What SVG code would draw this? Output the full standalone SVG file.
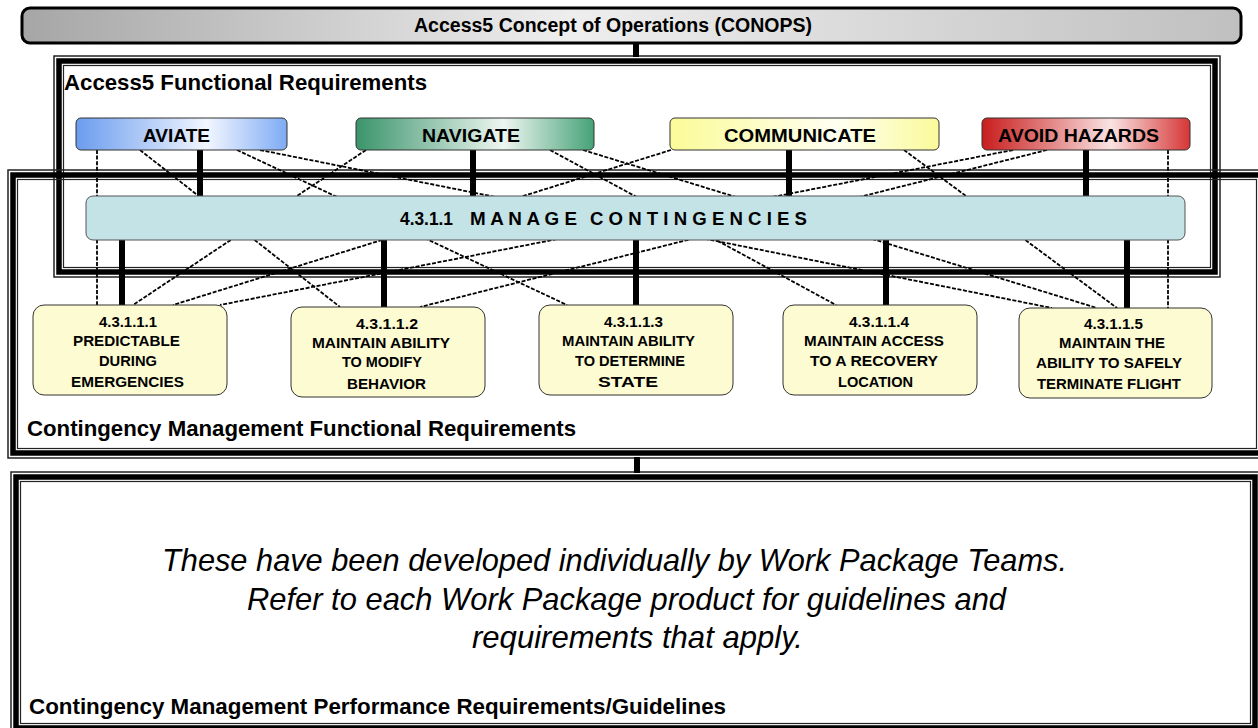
<svg xmlns="http://www.w3.org/2000/svg" width="1258" height="728" viewBox="0 0 1258 728">
<style>
text{font-family:'Liberation Sans',Arial,Helvetica,sans-serif;fill:#000}
.b{font-weight:bold}
.fo{fill:none;stroke:#222;stroke-width:1.5}
.ft{fill:none;stroke:#000;stroke-width:5.5}
.fi{fill:none;stroke:#222;stroke-width:1.2}
.thick{stroke:#000;stroke-width:6;fill:none}
.dash{stroke:#000;stroke-width:1.8;stroke-dasharray:4 1.6;fill:none}
.top{stroke:#333;stroke-width:1}
.sub{fill:#fdfbd1;stroke:#333;stroke-width:1}
.lbl{font-size:15px;font-weight:bold}
.hd{font-size:22px;font-weight:bold}
.it{font-size:30.5px;font-style:italic}
</style>
<defs>
<linearGradient id="gBar" x1="0" y1="0" x2="1" y2="0">
<stop offset="0" stop-color="#a6a6a6"/><stop offset="0.45" stop-color="#eeeeee"/><stop offset="1" stop-color="#c0c0c0"/>
</linearGradient>
<linearGradient id="gBlue" x1="0" y1="0" x2="1" y2="0">
<stop offset="0" stop-color="#6b9cee"/><stop offset="0.62" stop-color="#f2f6ff"/><stop offset="1" stop-color="#7eabf4"/>
</linearGradient>
<linearGradient id="gGreen" x1="0" y1="0" x2="1" y2="0">
<stop offset="0" stop-color="#3a946b"/><stop offset="0.62" stop-color="#eef6f1"/><stop offset="1" stop-color="#46a277"/>
</linearGradient>
<linearGradient id="gYellow" x1="0" y1="0" x2="1" y2="0">
<stop offset="0" stop-color="#fbfb98"/><stop offset="0.62" stop-color="#fffff2"/><stop offset="1" stop-color="#fafa9a"/>
</linearGradient>
<linearGradient id="gRed" x1="0" y1="0" x2="1" y2="0">
<stop offset="0" stop-color="#c91c1c"/><stop offset="0.62" stop-color="#fae3e3"/><stop offset="1" stop-color="#d63636"/>
</linearGradient>
</defs>
<rect width="1258" height="728" fill="#fff"/>

<!-- Frames -->
<g id="frame-access5">
<rect class="fo" x="54" y="56" width="1166" height="221"/>
<rect class="ft" x="59" y="61" width="1156" height="211"/>
<rect class="fi" x="63.5" y="65.5" width="1147" height="202"/>
<text class="hd" x="64" y="90" textLength="363" lengthAdjust="spacingAndGlyphs">Access5 Functional Requirements</text>
</g>
<g id="frame-cm-functional">
<rect class="fo" x="8" y="170" width="1258" height="288"/>
<rect class="ft" x="13" y="175" width="1248" height="278"/>
<rect class="fi" x="17.5" y="179.5" width="1239" height="269"/>
<text class="hd" x="27" y="436" textLength="549" lengthAdjust="spacingAndGlyphs">Contingency Management Functional Requirements</text>
</g>
<g id="frame-cm-performance">
<rect class="fo" x="11" y="472" width="1249" height="261"/>
<rect class="ft" x="16" y="477" width="1239" height="251"/>
<rect class="fi" x="20.5" y="481.5" width="1230" height="242"/>
<text class="it" x="162" y="571" textLength="905" lengthAdjust="spacingAndGlyphs">These have been developed individually by Work Package Teams.</text>
<text class="it" x="247" y="610" textLength="759" lengthAdjust="spacingAndGlyphs">Refer to each Work Package product for guidelines and</text>
<text class="it" x="472" y="648" textLength="331" lengthAdjust="spacingAndGlyphs">requirements that apply.</text>
<text class="hd" x="29" y="714" textLength="697" lengthAdjust="spacingAndGlyphs">Contingency Management Performance Requirements/Guidelines</text>
</g>

<!-- Connectors -->
<g id="connectors">
<line class="thick" x1="636" y1="43" x2="636" y2="57"/>
<line class="thick" x1="637" y1="457" x2="637" y2="473"/>
<line class="dash" x1="97" y1="150" x2="97" y2="305"/>
<line class="dash" x1="140" y1="150" x2="340" y2="307"/>
<line class="dash" x1="237" y1="150" x2="567" y2="305"/>
<line class="dash" x1="260" y1="150" x2="1052" y2="308"/>
<line class="dash" x1="366" y1="150" x2="133" y2="305"/>
<line class="dash" x1="550" y1="150" x2="836" y2="305"/>
<line class="dash" x1="583" y1="150" x2="1097" y2="308"/>
<line class="dash" x1="671" y1="150" x2="173" y2="305"/>
<line class="dash" x1="904" y1="150" x2="1117" y2="308"/>
<line class="dash" x1="1013" y1="150" x2="220" y2="305"/>
<line class="dash" x1="1047" y1="150" x2="420" y2="307"/>
<line class="dash" x1="1168" y1="150" x2="1168" y2="308"/>
<line class="thick" x1="200" y1="150" x2="200" y2="197"/>
<line class="thick" x1="473" y1="150" x2="473" y2="197"/>
<line class="thick" x1="789" y1="150" x2="789" y2="197"/>
<line class="thick" x1="1086" y1="150" x2="1086" y2="197"/>
<line class="thick" x1="122" y1="240" x2="122" y2="306"/>
<line class="thick" x1="384" y1="240" x2="384" y2="308"/>
<line class="thick" x1="636" y1="240" x2="636" y2="306"/>
<line class="thick" x1="886" y1="240" x2="886" y2="306"/>
<line class="thick" x1="1127" y1="240" x2="1127" y2="308"/>
</g>

<!-- Top bar -->
<g id="conops">
<rect x="22" y="8" width="1219" height="35" rx="8" fill="url(#gBar)" stroke="#000" stroke-width="3"/>
<text class="b" x="414" y="32" font-size="19.5" textLength="398" lengthAdjust="spacingAndGlyphs">Access5 Concept of Operations (CONOPS)</text>
</g>

<!-- Top boxes -->
<g id="aviate">
<rect class="top" x="76" y="118" width="211" height="32" rx="5" fill="url(#gBlue)"/>
<text class="b" x="143" y="142" font-size="19" textLength="67" lengthAdjust="spacingAndGlyphs">AVIATE</text>
</g>
<g id="navigate">
<rect class="top" x="356" y="118" width="238" height="32" rx="5" fill="url(#gGreen)"/>
<text class="b" x="422" y="142" font-size="19" textLength="98" lengthAdjust="spacingAndGlyphs">NAVIGATE</text>
</g>
<g id="communicate">
<rect class="top" x="670" y="118" width="269" height="32" rx="5" fill="url(#gYellow)"/>
<text class="b" x="724" y="142" font-size="19" textLength="152" lengthAdjust="spacingAndGlyphs">COMMUNICATE</text>
</g>
<g id="avoid-hazards">
<rect class="top" x="982" y="118" width="208" height="32" rx="5" fill="url(#gRed)"/>
<text class="b" x="998" y="142" font-size="19" textLength="161" lengthAdjust="spacingAndGlyphs">AVOID HAZARDS</text>
</g>

<!-- Manage contingencies -->
<g id="manage-contingencies">
<rect x="86" y="196" width="1099" height="44" rx="7" fill="#c4e3e7" stroke="#555" stroke-width="1"/>
<text class="b" y="225" font-size="18"><tspan x="400" textLength="53" lengthAdjust="spacingAndGlyphs">4.3.1.1</tspan> <tspan x="470" textLength="107" lengthAdjust="spacingAndGlyphs">M A N A G E</tspan> <tspan x="590" textLength="217" lengthAdjust="spacingAndGlyphs">C O N T I N G E N C I E S</tspan></text>
</g>

<!-- Sub-requirement boxes -->
<g id="req-4-3-1-1-1">
<rect class="sub" x="33" y="305" width="194" height="90" rx="11"/>
<text class="lbl" x="99" y="327" textLength="58" lengthAdjust="spacingAndGlyphs">4.3.1.1.1</text>
<text class="lbl" x="73" y="346" textLength="107" lengthAdjust="spacingAndGlyphs">PREDICTABLE</text>
<text class="lbl" x="99" y="366" textLength="58" lengthAdjust="spacingAndGlyphs">DURING</text>
<text class="lbl" x="71" y="387" textLength="113" lengthAdjust="spacingAndGlyphs">EMERGENCIES</text>
</g>
<g id="req-4-3-1-1-2">
<rect class="sub" x="291" y="307" width="194" height="90" rx="11"/>
<text class="lbl" x="356" y="329" textLength="62" lengthAdjust="spacingAndGlyphs">4.3.1.1.2</text>
<text class="lbl" x="312" y="348" textLength="138" lengthAdjust="spacingAndGlyphs">MAINTAIN ABILITY</text>
<text class="lbl" x="342" y="367" textLength="80" lengthAdjust="spacingAndGlyphs">TO MODIFY</text>
<text class="lbl" x="347" y="389" textLength="79" lengthAdjust="spacingAndGlyphs">BEHAVIOR</text>
</g>
<g id="req-4-3-1-1-3">
<rect class="sub" x="539" y="305" width="194" height="90" rx="11"/>
<text class="lbl" x="604" y="327" textLength="59" lengthAdjust="spacingAndGlyphs">4.3.1.1.3</text>
<text class="lbl" x="562" y="346" textLength="133" lengthAdjust="spacingAndGlyphs">MAINTAIN ABILITY</text>
<text class="lbl" x="575" y="366" textLength="110" lengthAdjust="spacingAndGlyphs">TO DETERMINE</text>
<text class="lbl" x="598" y="387" textLength="60" lengthAdjust="spacingAndGlyphs">STATE</text>
</g>
<g id="req-4-3-1-1-4">
<rect class="sub" x="783" y="305" width="194" height="90" rx="11"/>
<text class="lbl" x="849" y="327" textLength="60" lengthAdjust="spacingAndGlyphs">4.3.1.1.4</text>
<text class="lbl" x="804" y="346" textLength="140" lengthAdjust="spacingAndGlyphs">MAINTAIN ACCESS</text>
<text class="lbl" x="810" y="366" textLength="128" lengthAdjust="spacingAndGlyphs">TO A RECOVERY</text>
<text class="lbl" x="838" y="387" textLength="75" lengthAdjust="spacingAndGlyphs">LOCATION</text>
</g>
<g id="req-4-3-1-1-5">
<rect class="sub" x="1019" y="308" width="193" height="90" rx="11"/>
<text class="lbl" x="1084" y="329" textLength="59" lengthAdjust="spacingAndGlyphs">4.3.1.1.5</text>
<text class="lbl" x="1059" y="348" textLength="106" lengthAdjust="spacingAndGlyphs">MAINTAIN THE</text>
<text class="lbl" x="1036" y="368" textLength="146" lengthAdjust="spacingAndGlyphs">ABILITY TO SAFELY</text>
<text class="lbl" x="1037" y="389" textLength="144" lengthAdjust="spacingAndGlyphs">TERMINATE FLIGHT</text>
</g>
</svg>
